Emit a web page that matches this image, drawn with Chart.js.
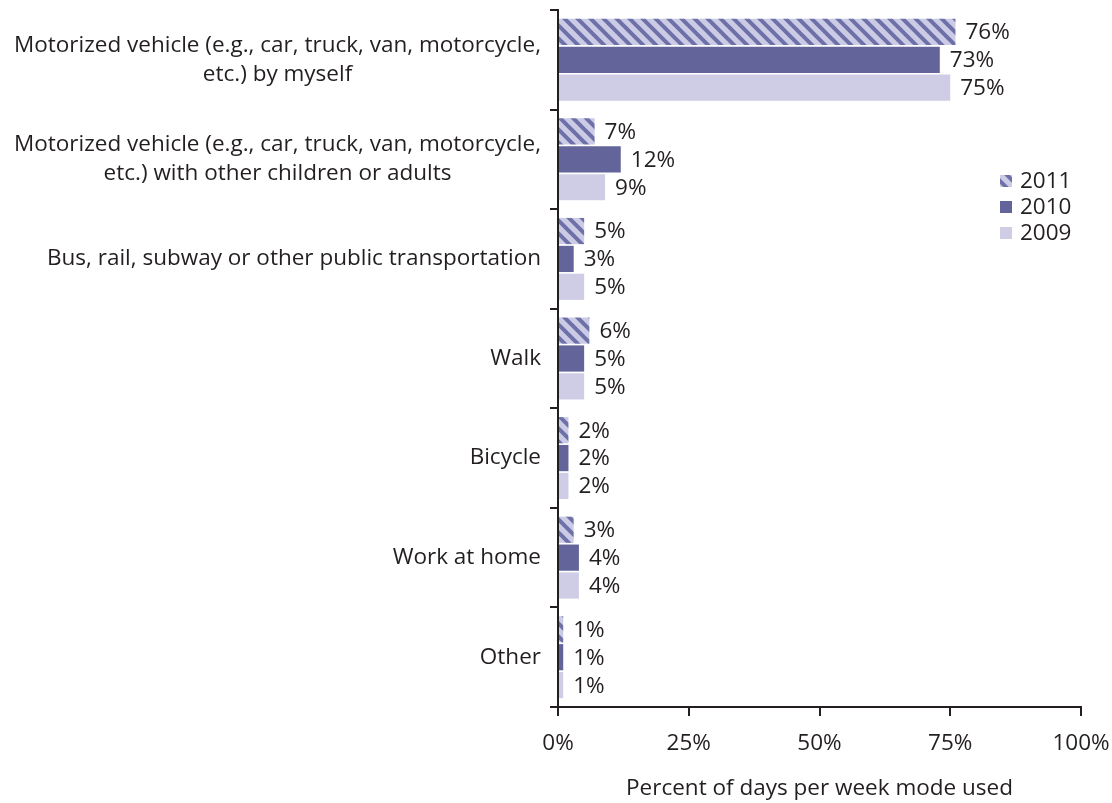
<!DOCTYPE html>
<html>
<head>
<meta charset="utf-8">
<script src="https://cdn.jsdelivr.net/npm/chart.js@4.4.0/dist/chart.umd.min.js"></script>
<style>
  html, body { margin: 0; padding: 0; background: #fff; }
  #wrap { width: 1112px; height: 803px; position: relative; }
</style>
</head>
<body>
<div id="wrap"><canvas id="chart"></canvas></div>
<script>
// categories (each an array of lines)
var categories = [
  ['Motorized vehicle (e.g., car, truck, van, motorcycle,', 'etc.) by myself'],
  ['Motorized vehicle (e.g., car, truck, van, motorcycle,', 'etc.) with other children or adults'],
  ['Bus, rail, subway or other public transportation'],
  ['Walk'],
  ['Bicycle'],
  ['Work at home'],
  ['Other']
];
var years = ['2011', '2010', '2009'];
var vals2011 = [76, 7, 5, 6, 2, 3, 1];
var vals2010 = [73, 12, 3, 5, 2, 4, 1];
var vals2009 = [75, 9, 5, 5, 2, 4, 1];
var xTicks = [0, 25, 50, 75, 100];

var FONT = '"Open Sans", sans-serif';
var FS = 22.5;
var TEXT = '#231f20';

// hatch for 2011
function hatch() {
  var c = document.createElement('canvas');
  c.width = 13; c.height = 13;
  var g = c.getContext('2d');
  g.fillStyle = '#cbcbe6';
  g.fillRect(0, 0, 13, 13);
  g.strokeStyle = '#6e70a8';
  g.lineWidth = 4;
  g.beginPath();
  g.moveTo(-2, -2); g.lineTo(15, 15);
  g.moveTo(-15, -2); g.lineTo(2, 15);
  g.moveTo(11, -2); g.lineTo(28, 15);
  g.stroke();
  return g.createPattern(c, 'repeat');
}

var pat = hatch();
var colors = [pat, '#63659a', '#cfcde6'];

// draws the category labels, value labels and legend
var extras = {
  id: 'extras',
  afterDatasetsDraw: function(chart) {
    var ctx = chart.ctx;
    var y = chart.scales.y;
    ctx.save();
    ctx.font = FS + 'px ' + FONT;
    ctx.fillStyle = TEXT;
    ctx.textBaseline = 'middle';

    // category labels: block right-aligned to the axis, lines centred in block
    var lh = 29;
    categories.forEach(function(lines, i) {
      var cy = y.getPixelForTick(i);
      var w = Math.max.apply(null, lines.map(function(l) { return ctx.measureText(l).width; }));
      var right = chart.chartArea.left - 17;
      var cx = right - w / 2;
      ctx.textAlign = 'center';
      lines.forEach(function(l, k) {
        ctx.fillText(l, cx, cy + (k - (lines.length - 1) / 2) * lh);
      });
    });

    // value labels
    ctx.textAlign = 'left';
    chart.data.datasets.forEach(function(ds, di) {
      var meta = chart.getDatasetMeta(di);
      meta.data.forEach(function(bar, i) {
        ctx.fillText(ds.data[i] + '%', bar.x + 10, bar.y + 1);
      });
    });

    // legend
    var lx = 1000, ly = 181;
    years.forEach(function(yr, i) {
      ctx.fillStyle = colors[i];
      ctx.fillRect(lx, ly + i * 26 - 6, 12, 12);
      ctx.fillStyle = TEXT;
      ctx.fillText(yr, lx + 20, ly + i * 26 + 1);
    });
    ctx.restore();
  }
};

new Chart(document.getElementById('chart'), {
  type: 'bar',
  data: {
    labels: categories,
    datasets: [
      { label: years[0], data: vals2011, backgroundColor: colors[0] },
      { label: years[1], data: vals2010, backgroundColor: colors[1] },
      { label: years[2], data: vals2009, backgroundColor: colors[2] }
    ]
  },
  options: {
    indexAxis: 'y',
    responsive: true,
    maintainAspectRatio: false,
    animation: false,
    layout: { padding: { left: 550, top: 10, right: 0, bottom: 0 } },
    datasets: { bar: { categoryPercentage: 0.84, barPercentage: 0.94 } },
    plugins: { legend: { display: false }, tooltip: { enabled: false } },
    scales: {
      x: {
        min: 0, max: 100,
        afterBuildTicks: function(axis) { axis.ticks = xTicks.map(function(v) { return { value: v }; }); },
        afterFit: function(s) { s.paddingRight = 31; },
        grid: { drawOnChartArea: false, drawTicks: true, tickLength: 9, color: '#231f20', lineWidth: 2 },
        border: { color: '#231f20', width: 2 },
        ticks: {
          color: TEXT, font: { family: FONT, size: FS }, padding: 14, maxRotation: 0,
          callback: function(v) { return v + '%'; }
        },
        title: {
          display: true, text: 'Percent of days per week mode used',
          color: TEXT, font: { family: FONT, size: FS }, padding: { top: 4, bottom: 1 }
        }
      },
      y: {
        grid: { drawOnChartArea: false, drawTicks: true, tickLength: 8, color: '#231f20', lineWidth: 2, offset: true },
        border: { color: '#231f20', width: 2 },
        ticks: { display: false }
      }
    }
  },
  plugins: [extras]
});
</script>
</body>
</html>
